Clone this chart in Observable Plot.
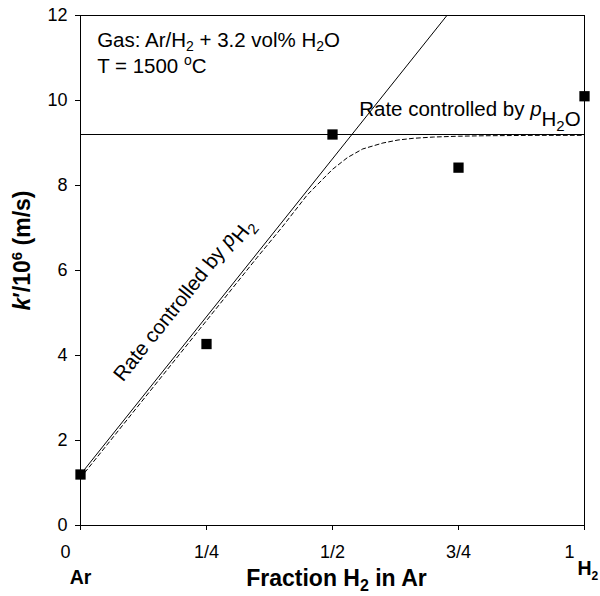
<!DOCTYPE html>
<html>
<head>
<meta charset="utf-8">
<script src="https://cdn.jsdelivr.net/npm/d3@7"></script>
<script src="https://cdn.jsdelivr.net/npm/@observablehq/plot@0.6"></script>
<style>
  html, body { margin: 0; padding: 0; background: #fff; }
  #chart svg { display: block; }
</style>
</head>
<body>
<div id="chart"></div>
<script>
// Measured rate constants k'/10^6 (m/s) versus fraction of H2 in Ar
const fraction = [0, 0.25, 0.5, 0.75, 1];
const kPrime = [1.2, 4.27, 9.2, 8.42, 10.1];

// Limiting line: rate controlled by p(H2)
const h2LimitX = [0, 0.727];
const h2LimitY = [1.2, 12];

// Limiting line: rate controlled by p(H2O)
const h2oLimitX = [0, 1];
const h2oLimitY = [9.2, 9.2];

// Combined model curve (dashed)
const modelX = [0, 0.1, 0.2, 0.3, 0.35, 0.4, 0.45, 0.5, 0.53, 0.56, 0.6, 0.63, 0.66, 0.7, 0.75, 0.8, 0.9, 1];
const modelY = [1.12, 2.6, 4.08, 5.56, 6.3, 7.02, 7.78, 8.38, 8.66, 8.86, 9.0, 9.07, 9.11, 9.14, 9.16, 9.17, 9.18, 9.18];

// Axis ticks
const xTicks = [0, 0.25, 0.5, 0.75, 1];
const xTickLabels = ["0", "1/4", "1/2", "3/4", "1"];
const yTicks = [0, 2, 4, 6, 8, 10, 12];

// Text labels
const gasLabel = "Gas: Ar/H2 + 3.2 vol% H2O";
const tempLabel = "T = 1500 oC";
const h2oLabel = "Rate controlled by pH2O";
const h2Label = "Rate controlled by pH2";
const xTitle = "Fraction H2 in Ar";
const yTitle = "k′/106 (m/s)";
const leftEnd = "Ar";
const rightEnd = "H2";

const FS = 18;      // tick labels
const FA = 20.5;    // gas / temperature note
const FR = 20.5;    // regime labels
const FT = 23;      // axis titles
const FE = 19.5;    // Ar / H2 end labels
const tickText = (v) => xTickLabels[xTicks.indexOf(v)];
const centered = {textAnchor: "middle", lineAnchor: "middle"};

const chart = Plot.plot({
  width: 600,
  height: 596,
  marginLeft: 80,
  marginRight: 16,
  marginTop: 15,
  marginBottom: 71,
  style: {fontFamily: "'Liberation Sans', Arial, sans-serif", fontSize: FS + "px", color: "#000", background: "#fff"},
  x: {domain: [0, 1]},
  y: {domain: [0, 12]},
  marks: [
    Plot.frame({stroke: "#000", strokeWidth: 1}),
    Plot.axisY({ticks: yTicks, tickSize: 5, tickPadding: 8, label: null, fontSize: FS}),
    Plot.axisX({ticks: xTicks, tickSize: 5, tickPadding: 15, label: null, fontSize: FS,
      tickFormat: (v) => (v === 0 || v === 1 ? "" : tickText(v))}),
    Plot.axisX({ticks: [0, 1], tickSize: 0, tickPadding: 20, label: null, fontSize: FS, dx: -15,
      tickFormat: tickText}),
    Plot.line(modelX, {x: modelX, y: modelY, stroke: "#000", strokeWidth: 1, strokeDasharray: "4,3"}),
    Plot.line(h2LimitX, {x: h2LimitX, y: h2LimitY, stroke: "#000", strokeWidth: 1}),
    Plot.line(h2oLimitX, {x: h2oLimitX, y: h2oLimitY, stroke: "#000", strokeWidth: 1}),
    Plot.dot(fraction, {x: fraction, y: kPrime, symbol: "square", r: 5.8, fill: "#000", stroke: null}),
    Plot.text([gasLabel], {x: [0.033], y: [11.42], text: (d) => d, textAnchor: "start", lineAnchor: "middle", fontSize: FA}),
    Plot.text([tempLabel], {x: [0.033], y: [10.79], text: (d) => d, textAnchor: "start", lineAnchor: "middle", fontSize: FA}),
    Plot.text([h2oLabel], {x: [0.553], y: [9.8], text: (d) => d, textAnchor: "start", lineAnchor: "middle", fontSize: FR}),
    Plot.text([h2Label], {x: [0.074], y: [3.46], text: (d) => d, textAnchor: "start", lineAnchor: "middle", rotate: -51.4, fontSize: FR}),
    Plot.text([xTitle], {frameAnchor: "bottom", text: (d) => d, ...centered, dx: 4, dy: 53.5, fontWeight: "bold", fontSize: FT}),
    Plot.text([leftEnd], {x: [0], frameAnchor: "bottom", text: (d) => d, ...centered, dy: 51.8, fontWeight: "bold", fontSize: FE}),
    Plot.text([rightEnd], {x: [1], frameAnchor: "bottom", text: (d) => d, textAnchor: "start", lineAnchor: "middle", dx: -7, dy: 42.8, fontWeight: "bold", fontSize: FE}),
    Plot.text([yTitle], {frameAnchor: "left", text: (d) => d, ...centered, rotate: -90, dx: -58, dy: -20, fontWeight: "bold", fontSize: FT})
  ]
});

// Rebuild selected labels with italics, subscripts and superscripts
function richText(svg, key, parts) {
  svg.querySelectorAll("text").forEach((t) => {
    if (t.textContent !== key) return;
    while (t.firstChild) t.removeChild(t.firstChild);
    let prev = 0;
    for (const [str, o = {}] of parts) {
      const sp = document.createElementNS("http://www.w3.org/2000/svg", "tspan");
      const shift = o.shift || 0;
      if (shift !== prev) sp.setAttribute("dy", shift - prev);
      prev = shift;
      if (o.size) sp.setAttribute("font-size", o.size);
      if (o.italic) sp.setAttribute("font-style", "italic");
      sp.textContent = str;
      t.appendChild(sp);
    }
  });
}

const svg = chart.tagName.toLowerCase() === "svg" ? chart : chart.querySelector("svg");
richText(svg, gasLabel, [["Gas: Ar/H"], ["2", {shift: 4, size: 14}], [" + 3.2 vol% H"], ["2", {shift: 4, size: 14}], ["O"]]);
richText(svg, tempLabel, [["T = 1500 "], ["o", {shift: -8, size: 14}], ["C"]]);
richText(svg, h2oLabel, [["Rate controlled by "], ["p", {italic: true}], ["H", {shift: 10}], ["2", {shift: 15, size: 15}], ["O", {shift: 10}]]);
richText(svg, h2Label, [["Rate controlled by "], ["p", {italic: true}], ["H", {shift: 6}], ["2", {shift: 11, size: 15}]]);
richText(svg, xTitle, [["Fraction H"], ["2", {shift: 5, size: 16}], [" in Ar"]]);
richText(svg, rightEnd, [["H"], ["2", {shift: 5, size: 12}]]);
richText(svg, yTitle, [["k", {italic: true}], ["′/10"], ["6", {shift: -8, size: 15}], [" (m/s)"]]);

document.getElementById("chart").appendChild(chart);
</script>
</body>
</html>
